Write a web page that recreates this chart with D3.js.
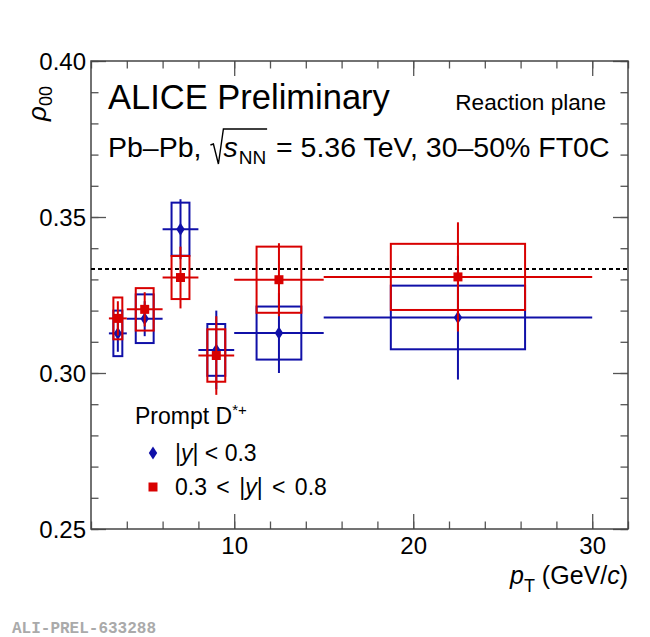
<!DOCTYPE html>
<html>
<head>
<meta charset="utf-8">
<script src="https://cdn.jsdelivr.net/npm/d3@7"></script>
<style>
  body { margin: 0; background: #fff; }
  text { white-space: pre; }
</style>
</head>
<body>
<script>
// pT bins (GeV/c)
const binLow = [3, 4, 6, 8, 10, 15];
const binHigh = [4, 6, 8, 10, 15, 30];
const binCenter = [3.5, 5, 7, 9, 12.5, 22.5];

// |y| < 0.3 : value, stat, syst
const rhoMid = [0.3127, 0.3174, 0.3461, 0.3074, 0.3128, 0.3178];
const statMid = [0.0059, 0.0056, 0.0096, 0.0126, 0.0128, 0.0199];
const systMid = [0.0073, 0.0078, 0.0085, 0.0083, 0.0085, 0.0102];

// 0.3 < |y| < 0.8 : value, stat, syst
const rhoFwd = [0.3175, 0.3204, 0.3306, 0.3056, 0.3299, 0.3308];
const statFwd = [0.0055, 0.0055, 0.0099, 0.0126, 0.0117, 0.0175];
const systFwd = [0.0067, 0.0068, 0.0069, 0.0084, 0.0106, 0.0106];

// axes
const xMajor = [10, 20, 30];
const xMinor = d3.range(2, 33, 2);
const yMajor = [0.25, 0.30, 0.35, 0.40];
const yMinor = d3.range(25, 41).map(d => d / 100);
const rhoUnpol = 1 / 3;

const W = 650, H = 637;
const margin = { left: 91, right: 22, top: 61, bottom: 108 };
const FONT = "'Liberation Sans', Arial, Helvetica, sans-serif";
const BLUE = "#1010a8", RED = "#d80000";

const svg = d3.select("body").append("svg")
  .attr("width", W).attr("height", H)
  .style("font-family", FONT);

const x = d3.scaleLinear().domain([2, 32]).range([margin.left, W - margin.right]);
const y = d3.scaleLinear().domain([0.25, 0.40]).range([H - margin.bottom, margin.top]);

// 轴：刻度朝内，上下左右都有
function ticks(axis, pos, vals, size, labels) {
  const g = svg.append("g").attr("transform", pos)
    .call(axis.tickValues(vals).tickSizeInner(-size).tickSizeOuter(0)
      .tickFormat(labels ? labels : ""));
  g.select(".domain").remove();
  g.selectAll("line").attr("stroke", "#555").attr("stroke-width", 1.3);
  return g;
}
const bx = `translate(0,${y.range()[0]})`, tx = `translate(0,${y.range()[1]})`;
const lx = `translate(${x.range()[0]},0)`, rx = `translate(${x.range()[1]},0)`;

ticks(d3.axisBottom(x), bx, xMinor, 7.5);
ticks(d3.axisTop(x), tx, xMinor, 7.5);
ticks(d3.axisLeft(y), lx, yMinor, 7.5);
ticks(d3.axisRight(y), rx, yMinor, 7.5);
ticks(d3.axisTop(x), tx, xMajor, 15);
ticks(d3.axisRight(y), rx, yMajor, 15);

const xAx = ticks(d3.axisBottom(x), bx, xMajor, 15, d3.format("d"));
xAx.selectAll("text").attr("y", 25).attr("dy", 0)
  .attr("font-size", 24).attr("font-family", FONT).attr("fill", "#000");
const yAx = ticks(d3.axisLeft(y), lx, yMajor, 15, d3.format(".2f"));
yAx.selectAll("text").attr("x", -5).attr("dy", "0.36em")
  .attr("font-size", 24).attr("font-family", FONT).attr("fill", "#000");

// 外框
svg.append("rect")
  .attr("x", x.range()[0]).attr("y", y.range()[1])
  .attr("width", x.range()[1] - x.range()[0])
  .attr("height", y.range()[0] - y.range()[1])
  .attr("fill", "none").attr("stroke", "#444").attr("stroke-width", 1.5);

// rho00 = 1/3 虚线
svg.append("line")
  .attr("x1", x.range()[0]).attr("x2", x.range()[1])
  .attr("y1", y(rhoUnpol)).attr("y2", y(rhoUnpol))
  .attr("stroke", "#000").attr("stroke-width", 2).attr("stroke-dasharray", "4,3");

// 绘制一组数据：系统误差框 + 统计误差棒 + 标记
function drawSeries(vals, stat, syst, color, marker) {
  const data = vals.map((v, i) => ({
    v, stat: stat[i], syst: syst[i],
    lo: binLow[i], hi: binHigh[i], c: binCenter[i]
  }));
  const g = svg.append("g").attr("stroke", color).attr("fill", "none").attr("stroke-width", 2);

  g.selectAll("rect.syst").data(data).join("rect").attr("class", "syst")
    .attr("x", d => x(d.c - (d.hi - d.lo) / 4))
    .attr("width", d => x(d.c + (d.hi - d.lo) / 4) - x(d.c - (d.hi - d.lo) / 4))
    .attr("y", d => y(d.v + d.syst))
    .attr("height", d => y(d.v - d.syst) - y(d.v + d.syst));

  g.selectAll("line.h").data(data).join("line").attr("class", "h")
    .attr("x1", d => x(d.lo)).attr("x2", d => x(d.hi))
    .attr("y1", d => y(d.v)).attr("y2", d => y(d.v));

  g.selectAll("line.v").data(data).join("line").attr("class", "v")
    .attr("x1", d => x(d.c)).attr("x2", d => x(d.c))
    .attr("y1", d => y(d.v - d.stat)).attr("y2", d => y(d.v + d.stat));

  g.selectAll("path.m").data(data).join("path").attr("class", "m")
    .attr("d", marker)
    .attr("transform", d => `translate(${x(d.c)},${y(d.v)})`)
    .attr("fill", color).attr("stroke", "none");
}
const diamond = "M0,-6.5L4.2,0L0,6.5L-4.2,0Z";
const square = "M-4.5,-4.5H4.5V4.5H-4.5Z";

drawSeries(rhoMid, statMid, systMid, BLUE, diamond);
drawSeries(rhoFwd, statFwd, systFwd, RED, square);

// 文本
svg.append("text").attr("x", 108).attr("y", 109)
  .attr("font-size", 34.5).text("ALICE Preliminary");
svg.append("text").attr("x", 606).attr("y", 110)
  .attr("font-size", 22.6).attr("text-anchor", "end").text("Reaction plane");

// Pb–Pb, √sNN = 5.36 TeV ... 逐段排列
(function () {
  const base = 157, fs = 28.5;
  let cx = 108;
  function run(str, opt = {}) {
    const t = svg.append("text").attr("x", cx).attr("y", base + (opt.dy || 0))
      .attr("font-size", opt.fs || fs).text(str);
    if (opt.italic) t.attr("font-style", "italic");
    const w = t.node().getComputedTextLength();
    const x0 = cx;
    cx += w;
    return x0;
  }
  run("Pb–Pb,\u00a0");
  const rx0 = cx + 1;
  cx += 14;
  run("s", { italic: true });
  cx += 1;
  run("NN", { fs: 19, dy: 7 });
  const ex = cx + 1;
  svg.append("path")
    .attr("d", `M${rx0},${base - 12}L${rx0 + 3},${base - 13}L${rx0 + 8},${base + 7}L${rx0 + 13},${base - 28}L${ex},${base - 28}`)
    .attr("fill", "none").attr("stroke", "#000").attr("stroke-width", 1.4);
  cx += 2;
  run("\u00a0= 5.36 TeV, 30–50% FT0C");
})();

// 图例
const leg = svg.append("g").attr("font-size", 23);
leg.append("text").attr("x", 135).attr("y", 424)
  .call(t => {
    t.append("tspan").text("Prompt D");
    t.append("tspan").attr("font-size", 15).attr("dy", -9).text("*+");
  });
leg.append("path").attr("d", diamond).attr("fill", BLUE)
  .attr("transform", "translate(153,453)");
leg.append("path").attr("d", square).attr("fill", RED)
  .attr("transform", "translate(153,487)");
leg.append("text").attr("x", 175).attr("y", 461)
  .call(t => {
    t.append("tspan").text("|");
    t.append("tspan").attr("font-style", "italic").text("y");
    t.append("tspan").text("| < 0.3");
  });
leg.append("text").attr("x", 175).attr("y", 495).attr("word-spacing", 3)
  .call(t => {
    t.append("tspan").text("0.3 < |");
    t.append("tspan").attr("font-style", "italic").text("y");
    t.append("tspan").text("| < 0.8");
  });

// 轴标题
svg.append("text").attr("text-anchor", "end")
  .attr("transform", `translate(${x.range()[1]},584)`)
  .attr("font-size", 25)
  .call(t => {
    t.append("tspan").attr("font-style", "italic").text("p");
    t.append("tspan").attr("font-size", 18).attr("dy", 8).text("T");
    t.append("tspan").attr("dy", -8).text("\u00a0(GeV/");
    t.append("tspan").attr("font-style", "italic").text("c");
    t.append("tspan").text(")");
  });
svg.append("text").attr("text-anchor", "end")
  .attr("transform", "translate(46,86) rotate(-90)")
  .attr("font-size", 26)
  .call(t => {
    t.append("tspan").attr("font-style", "italic").text("ρ");
    t.append("tspan").attr("font-size", 18).attr("dy", 6).text("00");
  });

// 图号
svg.append("text").attr("x", 12).attr("y", 633)
  .attr("font-family", "'Liberation Mono', 'DejaVu Sans Mono', monospace")
  .attr("font-weight", "bold").attr("font-size", 16).attr("fill", "#aaa")
  .text("ALI-PREL-633288");
</script>
</body>
</html>
